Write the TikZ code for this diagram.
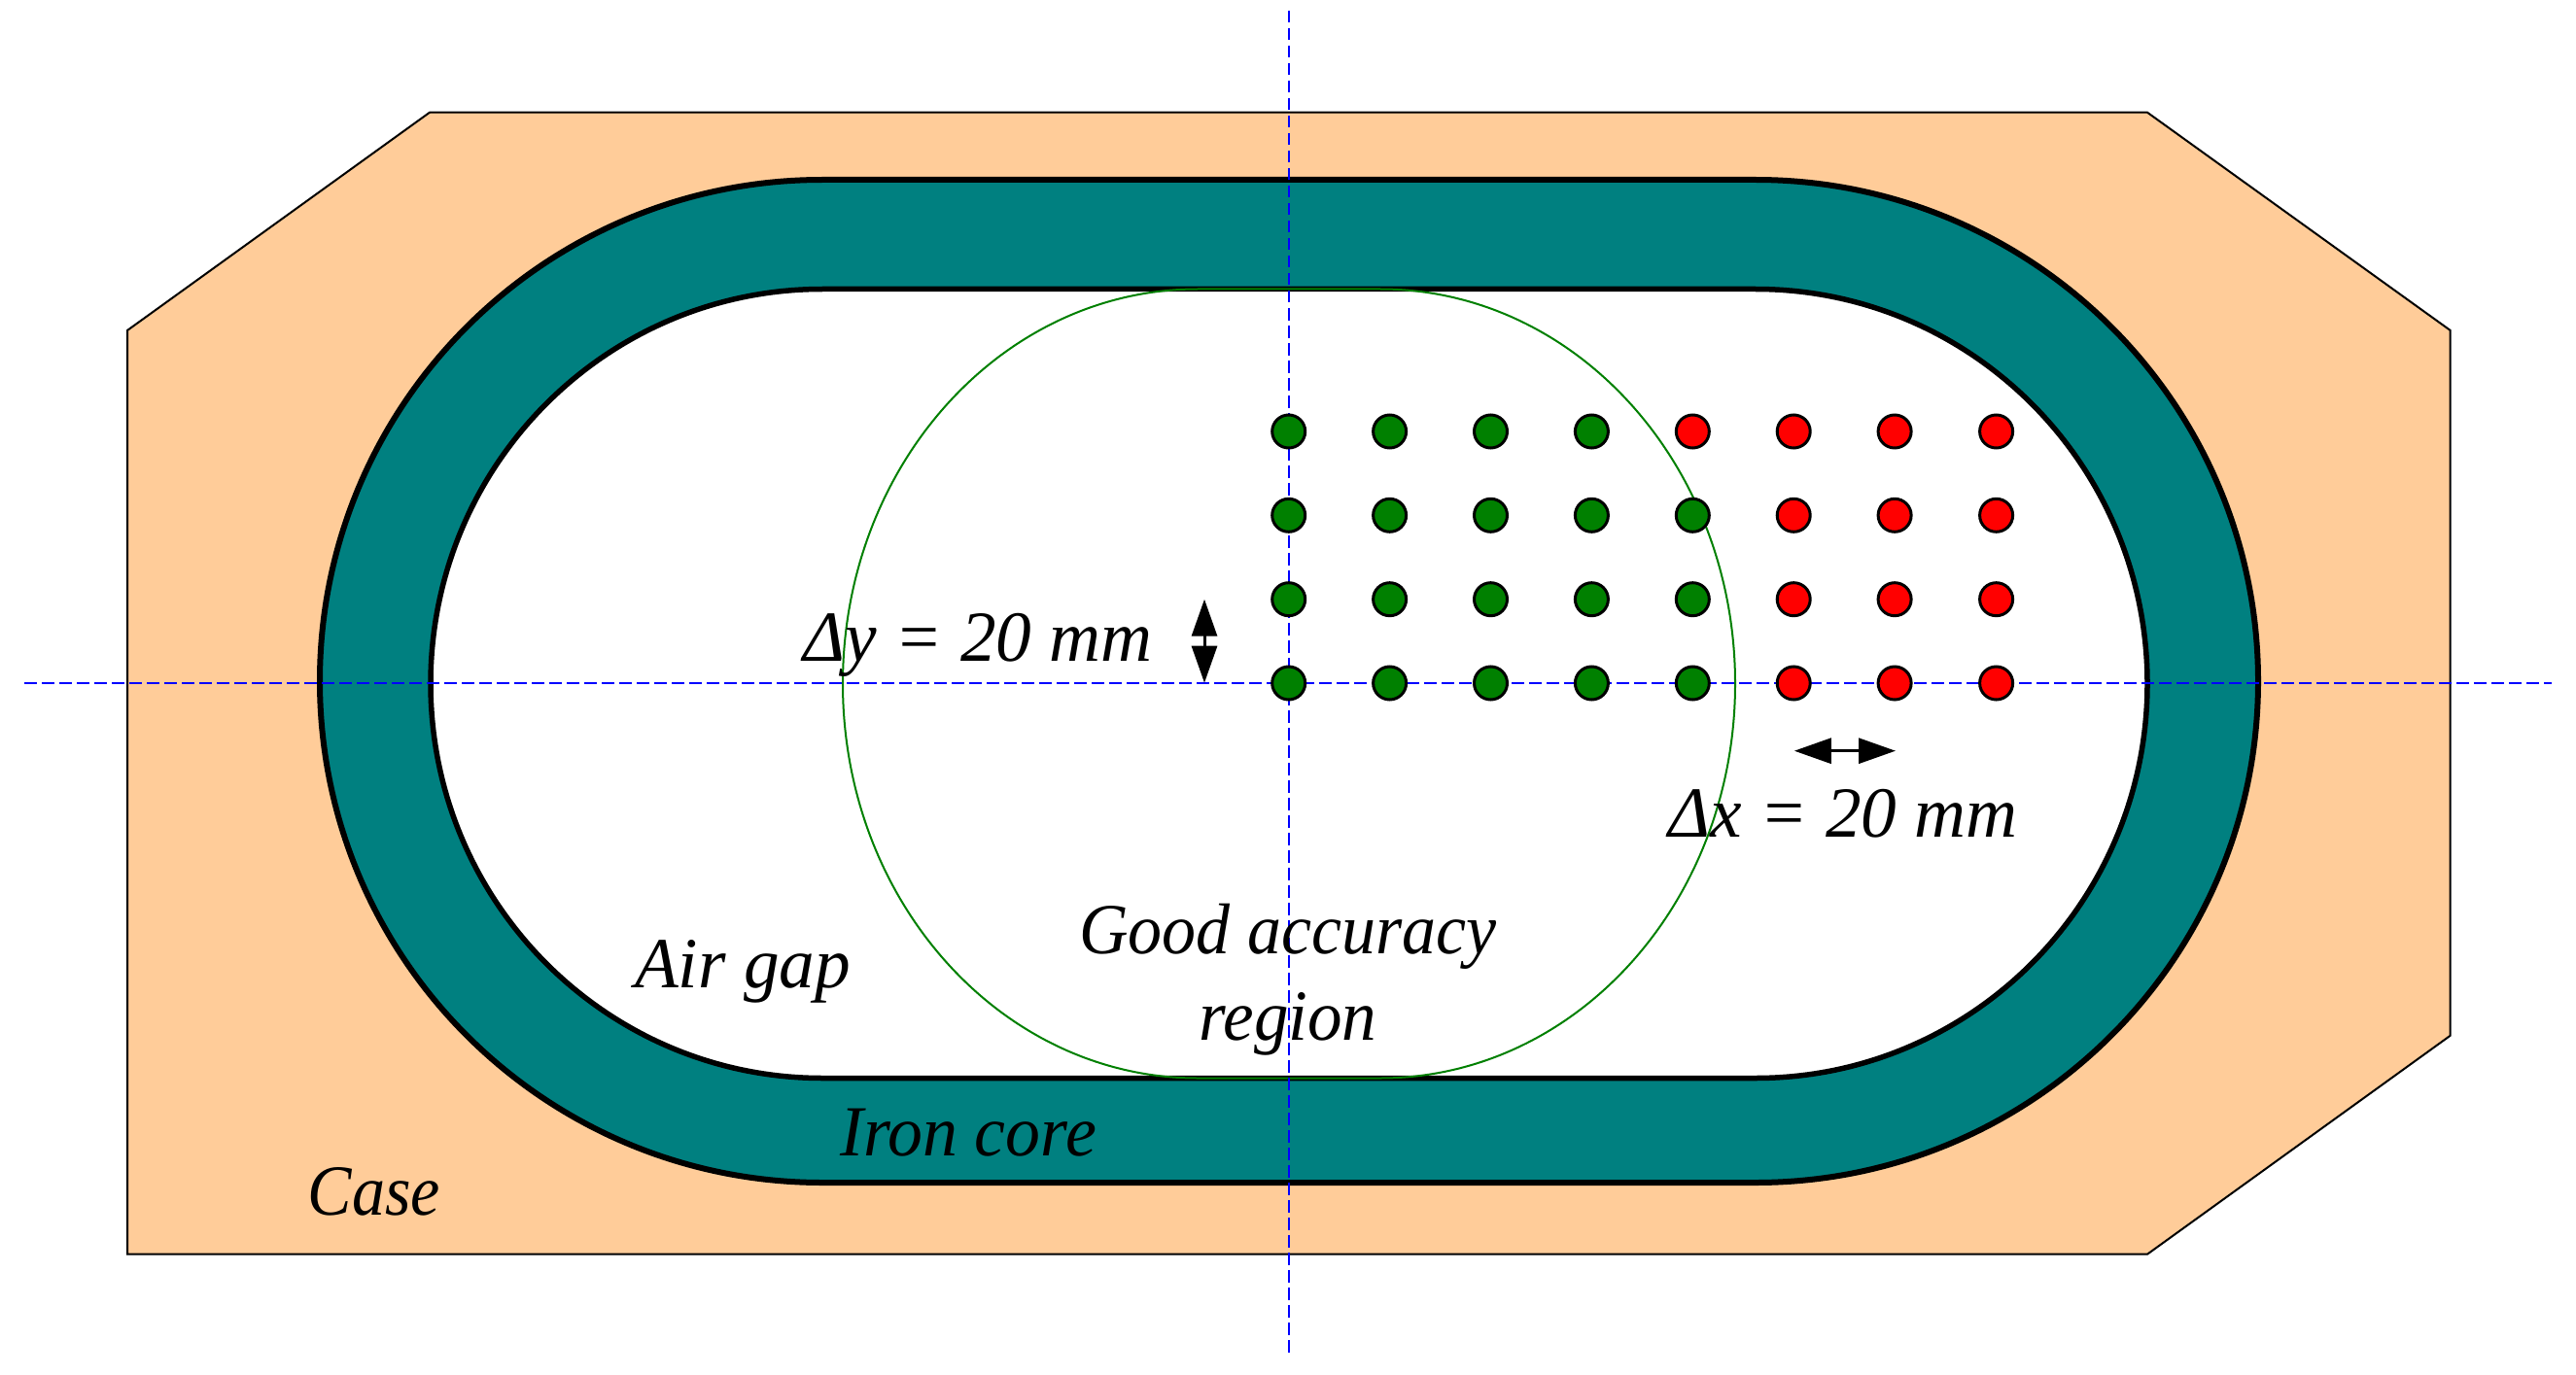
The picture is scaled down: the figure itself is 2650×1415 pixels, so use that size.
\documentclass[tikz,border=0pt]{standalone}
\usepackage{fontspec}
\usepackage{graphicx}
\setmainfont{Liberation Serif}
\usetikzlibrary{arrows.meta}
\definecolor{casecol}{HTML}{FFCC99}
\definecolor{corecol}{HTML}{008080}
\definecolor{okgreen}{HTML}{008000}
\definecolor{axisblue}{HTML}{0000FF}
\tikzset{
  px/.style={x=1pt,y=-1pt},
  casebody/.style={draw=black,line width=2pt,fill=casecol,line join=miter},
  coreouter/.style={draw=black,line width=6pt,fill=corecol},
  coreinner/.style={draw=black,line width=5.5pt,fill=white},
  goodregion/.style={draw=okgreen,line width=2pt},
  axisline/.style={draw=axisblue,line width=2pt,dash pattern=on 12.5pt off 5.5pt},
  gooddot/.style={circle,draw=black,line width=3pt,fill=okgreen,minimum size=34pt,inner sep=0pt},
  baddot/.style={circle,draw=black,line width=3pt,fill=red,minimum size=34pt,inner sep=0pt},
  pitch/.style={draw=black,line width=3pt,{Triangle[length=38pt,width=26pt]}-{Triangle[length=38pt,width=26pt]}},
  lbl/.style={font=\fontsize{74}{88}\selectfont\itshape,inner sep=0pt,anchor=base,text=black},
}
\begin{document}
\begin{tikzpicture}[px]
\useasboundingbox (0,0) rectangle (2650,1415);
% case
\draw[casebody] (442,115.7) -- (2209,115.7) -- (2520.7,340) -- (2520.7,1065.7) -- (2209,1290.7) -- (131,1290.7) -- (131,340) -- cycle;
% iron core and air gap
\draw[coreouter] (846,185) -- (1806,185) arc[start angle=-90,end angle=90,x radius=517,y radius=516] -- (846,1217) arc[start angle=90,end angle=270,x radius=517,y radius=516] -- cycle;
\draw[coreinner] (846,297.5) -- (1806,297.5) arc[start angle=-90,end angle=90,x radius=403,y radius=406] -- (846,1109.5) arc[start angle=90,end angle=270,x radius=403,y radius=406] -- cycle;
% good accuracy region
\draw[goodregion] (1232,297.5) -- (1420,297.5) arc[start angle=-90,end angle=90,x radius=365,y radius=406] -- (1232,1109.5) arc[start angle=90,end angle=270,x radius=365,y radius=406] -- cycle;
% axes
\coordinate (axL) at (25,703);
\coordinate (axR) at (2625,703);
\coordinate (axT) at (1326,11);
\coordinate (axB) at (1326,1396);
\draw[axisline] (axL) -- (axR);
\draw[axisline] (axT) -- (axB);
% dots
\foreach \c/\x in {1/1325.7,2/1429.6,3/1533.5,4/1637.4,5/1741.3,6/1845.2,7/1949.1,8/2053.6}{
  \foreach \r/\y in {1/444,2/530.3,3/616.7,4/703}{
    \pgfmathparse{(\c>5 || (\c==5 && \r==1)) ? "baddot" : "gooddot"}
    \edef\dotstyle{\pgfmathresult}
    \node[style=\dotstyle] (d\c\r) at (\x,\y) {};
  }
}
% pitch arrows
\coordinate (ya) at (1239,616.7);
\coordinate (yb) at (1239,702.7);
\coordinate (xa) at (1845.8,772.7);
\coordinate (xb) at (1950,772.7);
\draw[pitch] (ya) -- (yb);
\draw[pitch] (xa) -- (xb);
% labels
\node[lbl] (dylabel) at (1006,680) {\scalebox{0.99}[1]{Δy = 20 mm}};
\node[lbl] (dxlabel) at (1896,861) {\scalebox{0.99}[1]{Δx = 20 mm}};
\node[lbl] (goodlabel) at (1325,981.7) {\scalebox{0.945}[1]{Good accuracy}};
\node[lbl] (regionlabel) at (1325,1070) {\scalebox{0.96}[1]{region}};
\node[lbl] (airlabel) at (764,1016.7) {\scalebox{0.99}[1]{Air gap}};
\node[lbl] (ironlabel) at (996,1189) {\scalebox{0.97}[1]{Iron core}};
\node[lbl] (caselabel) at (385,1250) {\scalebox{0.92}[1]{Case}};
\end{tikzpicture}
\end{document}
